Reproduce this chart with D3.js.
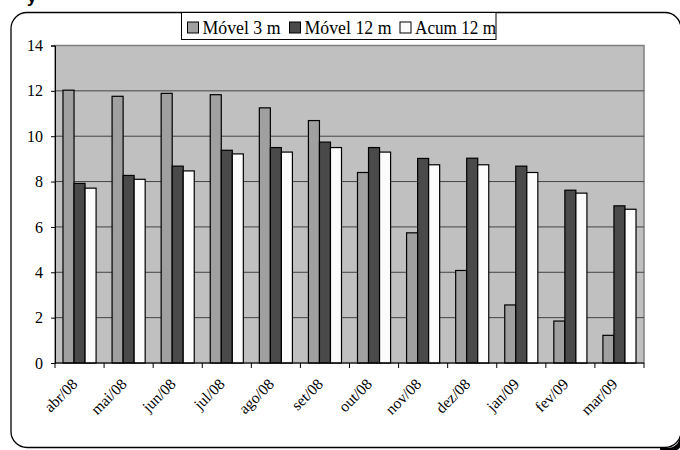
<!DOCTYPE html>
<html>
<head>
<meta charset="utf-8">
<script src="https://cdn.jsdelivr.net/npm/d3@7"></script>
<style>
  body { margin: 0; background: #fff; }
  text { font-family: "Liberation Serif", "Times New Roman", "DejaVu Serif", serif; }
</style>
</head>
<body>
<svg id="chart" width="680" height="450"></svg>
<script>
var categories = ["abr/08", "mai/08", "jun/08", "jul/08", "ago/08", "set/08", "out/08", "nov/08", "dez/08", "jan/09", "fev/09", "mar/09"];
var movel3 = [12.03, 11.76, 11.89, 11.83, 11.25, 10.69, 8.4, 5.74, 4.08, 2.56, 1.85, 1.22];
var movel12 = [7.92, 8.27, 8.68, 9.38, 9.5, 9.74, 9.5, 9.02, 9.03, 8.68, 7.62, 6.93];
var acum12 = [7.71, 8.1, 8.47, 9.22, 9.3, 9.5, 9.3, 8.74, 8.74, 8.4, 7.49, 6.78];
var seriesNames = ["Móvel 3 m", "Móvel 12 m", "Acum 12 m"];
var yTicks = [0, 2, 4, 6, 8, 10, 12, 14];

var colors = ["#a0a0a0", "#4a4a4a", "#fcfcfc"];
var svg = d3.select("#chart");
var serif = "'Liberation Serif', 'Times New Roman', 'DejaVu Serif', serif";

// cut off title fragment at the very top
svg.append("text").attr("x", 27).attr("y", 3)
  .style("font-family", "'Liberation Sans', sans-serif").style("font-weight", "bold")
  .style("font-size", "17px").text("y");

// outer frame, thick shadow only at the bottom right corner
svg.append("path")
  .attr("d", "M683,424 L683,437 Q683,452 668,452 L660,452 L660,448 L666,448 Q680,448 680,434 Z")
  .attr("fill", "#000");
svg.append("rect")
  .attr("x", 11).attr("y", 12.5).attr("width", 670).attr("height", 435)
  .attr("rx", 16).attr("fill", "#fff").attr("stroke", "#000").attr("stroke-width", 1.3);

var plotLeft = 55, plotRight = 644, plotTop = 45.5, plotBottom = 363;

var x = d3.scaleBand().domain(categories).range([plotLeft, plotRight]).paddingInner(0).paddingOuter(0);
var y = d3.scaleLinear().domain([0, 14]).range([plotBottom, plotTop]);
var inner = d3.scaleBand().domain(d3.range(3)).range([8, x.bandwidth() - 8]);

// plot area
svg.append("rect").attr("x", plotLeft).attr("y", plotTop)
  .attr("width", plotRight - plotLeft).attr("height", plotBottom - plotTop)
  .attr("fill", "#c0c0c0").attr("stroke", "#808080").attr("stroke-width", 1.5);

// gridlines
svg.append("g").selectAll("line").data(yTicks.filter(function (d) { return d > 0 && d < 14; }))
  .enter().append("line")
  .attr("x1", plotLeft).attr("x2", plotRight)
  .attr("y1", function (d) { return y(d); }).attr("y2", function (d) { return y(d); })
  .attr("stroke", "#444").attr("stroke-width", 1);

// bars
var series = [movel3, movel12, acum12];
series.forEach(function (vals, s) {
  svg.append("g").selectAll("rect").data(vals).enter().append("rect")
    .attr("x", function (d, i) { return x(categories[i]) + inner(s); })
    .attr("y", function (d) { return y(d); })
    .attr("width", inner.bandwidth())
    .attr("height", function (d) { return plotBottom - y(d); })
    .attr("fill", colors[s]).attr("stroke", "#000").attr("stroke-width", 1.2);
});

// y axis
var yAxis = svg.append("g").attr("transform", "translate(" + plotLeft + ",0)")
  .call(d3.axisLeft(y).tickValues(yTicks).tickSize(4).tickPadding(8).tickFormat(d3.format("d")));
yAxis.attr("font-family", null);
yAxis.select(".domain").attr("stroke", "#000");
yAxis.selectAll("line").attr("stroke", "#000");
yAxis.selectAll("text").style("font-size", "16px").style("font-family", serif).attr("fill", "#000");

// x axis, ticks between categories
var xAxis = svg.append("g").attr("transform", "translate(0," + plotBottom + ")");
xAxis.append("line").attr("x1", plotLeft).attr("x2", plotRight).attr("stroke", "#000");
xAxis.selectAll("line.tk").data(categories.concat([null])).enter().append("line")
  .attr("class", "tk")
  .attr("x1", function (d, i) { return plotLeft + i * x.bandwidth(); })
  .attr("x2", function (d, i) { return plotLeft + i * x.bandwidth(); })
  .attr("y1", 0).attr("y2", 5).attr("stroke", "#000");
xAxis.selectAll("text").data(categories).enter().append("text")
  .attr("transform", function (d) {
    return "translate(" + (x(d) + x.bandwidth() / 2 - 1) + ",22) rotate(-45)";
  })
  .attr("text-anchor", "end")
  .style("font-size", "15.5px").style("font-family", serif)
  .text(function (d) { return d; });

// legend
var lg = svg.append("g");
lg.append("rect").attr("x", 181.5).attr("y", 12.5).attr("width", 314.5).attr("height", 27)
  .attr("fill", "#fff").attr("stroke", "#000").attr("stroke-width", 1);
var legendX = [187.5, 289.5, 400];
var legendW = [78, 87, 81];
seriesNames.forEach(function (name, i) {
  lg.append("rect").attr("x", legendX[i]).attr("y", 22).attr("width", 11).attr("height", 11)
    .attr("fill", colors[i]).attr("stroke", "#000").attr("stroke-width", 1);
  lg.append("text").attr("x", legendX[i] + 15).attr("y", 33.5)
    .style("font-size", "18px").style("font-family", serif)
    .attr("textLength", legendW[i]).attr("lengthAdjust", "spacingAndGlyphs")
    .text(name);
});
</script>
</body>
</html>
